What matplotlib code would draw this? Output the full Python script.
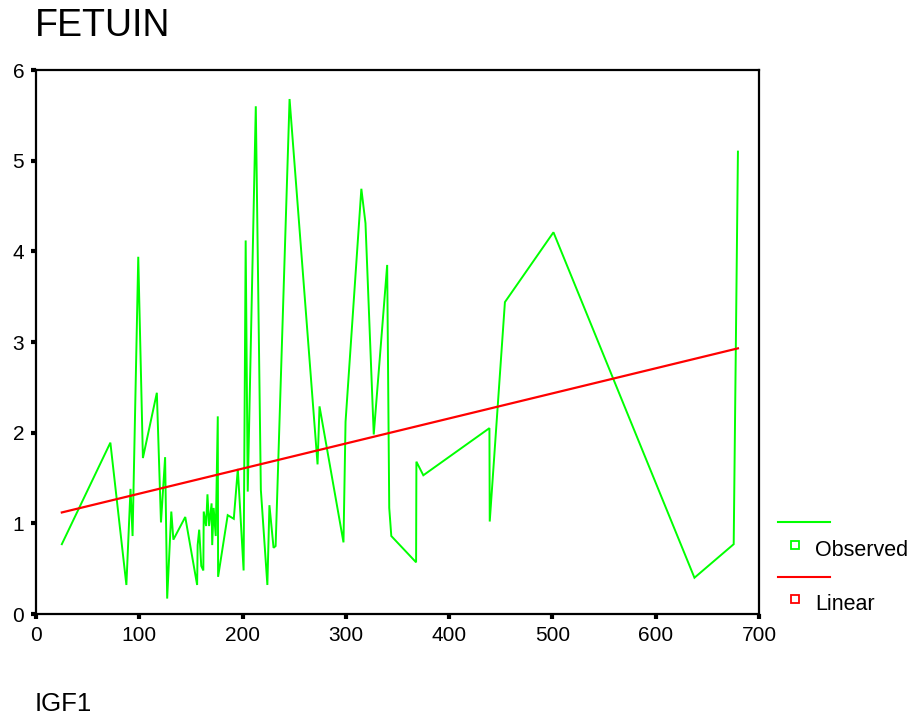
import matplotlib
matplotlib.use("Agg")
import matplotlib.pyplot as plt
from matplotlib.lines import Line2D

plt.rcParams['font.family'] = ['Liberation Sans', 'DejaVu Sans']

igf1 = [25, 72, 87.5, 91.5, 93.5, 99, 103.5, 117, 121, 125, 127, 131, 133, 144.5,
        156, 156.5, 158, 160, 162, 162.4, 164.7, 166, 167.6, 170, 170.6, 172, 174,
        176, 176.3, 185.6, 191.5, 195.4, 201, 203, 205, 212.8, 217.7, 224, 226, 230,
        232, 245.5, 272.6, 274.5, 297.7, 299.7, 315, 319, 327, 340, 342, 344, 368,
        368.3, 375, 439, 439.3, 454, 501, 637.5, 675.5, 679.6]
fetuin = [0.77, 1.89, 0.32, 1.38, 0.86, 3.94, 1.72, 2.44, 1.01, 1.73, 0.17, 1.13, 0.82, 1.07,
          0.32, 0.76, 0.93, 0.53, 0.48, 1.13, 0.97, 1.32, 0.97, 1.22, 0.76, 1.17, 0.86,
          2.18, 0.41, 1.09, 1.05, 1.60, 0.48, 4.12, 1.35, 5.60, 1.37, 0.32, 1.20, 0.73,
          0.75, 5.68, 1.65, 2.29, 0.79, 2.12, 4.69, 4.31, 1.98, 3.85, 1.17, 0.86, 0.57,
          1.68, 1.53, 2.05, 1.02, 3.44, 4.21, 0.40, 0.77, 5.10]

# Linear fit line endpoints
linear_x = [25, 679.6]
linear_y = [1.12, 2.93]

x_ticks = [0, 100, 200, 300, 400, 500, 600, 700]
y_ticks = [0, 1, 2, 3, 4, 5, 6]

W, H = 920, 722
fig = plt.figure(figsize=(W / 100, H / 100), dpi=100)
ax = fig.add_axes([36 / W, 1 - 614 / H, (759 - 36) / W, (614 - 70) / H])

green = '#00FF00'
red = '#FF0000'
ax.plot(igf1, fetuin, color=green, lw=1.4, solid_joinstyle='miter')
ax.plot(linear_x, linear_y, color=red, lw=1.6)

ax.set_xlim(0, 700)
ax.set_ylim(0, 6)
ax.set_xticks(x_ticks)
ax.set_yticks(y_ticks)
ax.tick_params(direction='out', length=3.5, width=3, labelsize=15, pad=5, color='black')
for s in ax.spines.values():
    s.set_linewidth(1.6)
    s.set_color('black')

def fx(px):
    return px / W

def fy(py):
    return 1 - py / H

fig.text(fx(35), fy(26), 'FETUIN', fontsize=27, ha='left', va='center')
fig.text(fx(35), fy(704), 'IGF1', fontsize=18.5, ha='left', va='center')

# Legend (SPSS style: line sample above, marker below)
for (ly, my, ty, col, lab) in [(522, 545, 550, green, 'Observed'),
                               (577, 599, 604, red, 'Linear')]:
    fig.add_artist(Line2D([fx(778), fx(830)], [fy(ly), fy(ly)], color=col, lw=1.5,
                          transform=fig.transFigure))
    fig.add_artist(Line2D([fx(795)], [fy(my)], marker='s', markersize=5.5,
                          markerfacecolor='none', markeredgecolor=col, markeredgewidth=1.3,
                          linestyle='none', transform=fig.transFigure))
    fig.text(fx(815), fy(ty), lab, fontsize=15.5, ha='left', va='center')

fig.savefig('out.png', dpi=100)
